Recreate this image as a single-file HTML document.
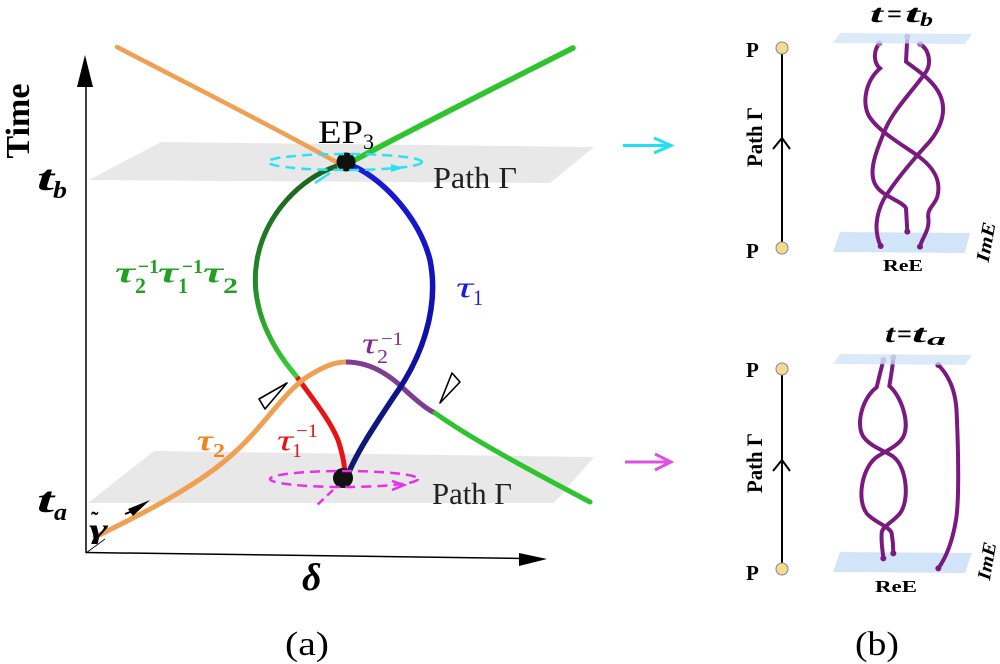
<!DOCTYPE html>
<html><head><meta charset="utf-8"><style>
html,body{margin:0;padding:0;background:#fff;}
svg{display:block;}
text{font-family:"Liberation Serif","DejaVu Serif",serif;}
</style></head><body>
<svg width="1000" height="664" viewBox="0 0 1000 664" xmlns="http://www.w3.org/2000/svg">
<defs>
<linearGradient id="gl" gradientUnits="userSpaceOnUse" x1="0" y1="166" x2="0" y2="377">
<stop offset="0" stop-color="#1d621d"/><stop offset="0.55" stop-color="#24862a"/><stop offset="1" stop-color="#36d236"/>
</linearGradient>
<linearGradient id="bl" gradientUnits="userSpaceOnUse" x1="0" y1="166" x2="0" y2="477">
<stop offset="0" stop-color="#1a1ad8"/><stop offset="0.5" stop-color="#1010b0"/><stop offset="1" stop-color="#0e1a66"/>
</linearGradient>
</defs>

<!-- planes (a) -->
<polygon points="161,142 594,147 550,183 89,180" fill="#e8e8e8"/>
<polygon points="154,451 594,457 554,503 88,503" fill="#e8e8e8"/>

<!-- axes -->
<line x1="86" y1="553" x2="86" y2="80" stroke="#000" stroke-width="1.5"/>
<polygon points="85,55 77,87 93,87" fill="#000"/>
<line x1="86" y1="552.5" x2="525" y2="558.5" stroke="#000" stroke-width="1.5"/>
<polygon points="547,559 519,553 519,566" fill="#000"/>
<line x1="86" y1="553" x2="105" y2="539" stroke="#000" stroke-width="0.8"/>

<!-- axis labels -->
<text transform="translate(29,121) rotate(-90)" text-anchor="middle" font-size="34" font-weight="bold">Time</text>
<text x="37" y="190" font-size="36" font-weight="bold" font-style="italic" textLength="17" lengthAdjust="spacingAndGlyphs">t</text>
<text x="53" y="198" font-size="24" font-weight="bold" font-style="italic" textLength="14" lengthAdjust="spacingAndGlyphs">b</text>
<text x="37" y="512" font-size="36" font-weight="bold" font-style="italic" textLength="17" lengthAdjust="spacingAndGlyphs">t</text>
<text x="54" y="520" font-size="24" font-weight="bold" font-style="italic" textLength="13" lengthAdjust="spacingAndGlyphs">a</text>
<text x="302" y="590" font-size="38" font-weight="bold" font-style="italic">δ</text>

<!-- curves -->
<path d="M117,47 C190,85 270,125 338,163" fill="none" stroke="#f0a052" stroke-width="4.5" stroke-linecap="round"/>
<path d="M353,161 C420,125 500,85 573,48" fill="none" stroke="#2ec42e" stroke-width="5.5" stroke-linecap="round"/>
<path d="M337,166 C300,178 265,215 257,260 C250,300 265,340 297,377" fill="none" stroke="url(#gl)" stroke-width="5"/>
<path d="M297,377 C312,398 330,420 338,440 C343,455 345,468 345,477" fill="none" stroke="#e81414" stroke-width="5"/>
<path d="M95,537 C140,515 200,485 235,452 C265,425 285,390 310,375 C325,366 335,362 346,362" fill="none" stroke="#f0a052" stroke-width="5" stroke-linecap="round"/>
<path d="M346,362 C370,362 390,375 405,390 C418,402 428,410 435,413" fill="none" stroke="#7e3d93" stroke-width="5"/>
<path d="M435,413 C470,438 520,465 590,502" fill="none" stroke="#2ec42e" stroke-width="5" stroke-linecap="round"/>
<path d="M353,166 C385,180 420,220 430,260 C440,310 420,360 395,395 C375,425 355,455 347,477" fill="none" stroke="url(#bl)" stroke-width="5.5"/>

<!-- dots -->
<circle cx="346" cy="162" r="9.5" fill="#111"/>
<circle cx="343" cy="478" r="10" fill="#111"/>

<!-- dashed loops -->
<ellipse cx="345" cy="162" rx="77" ry="8" fill="none" stroke="#2ee0f0" stroke-width="2.5" stroke-dasharray="10 6"/>
<polygon points="391,164 404,168 391,172" fill="#2ee0f0"/>
<line x1="330" y1="173" x2="315" y2="183" stroke="#2ee0f0" stroke-width="2.5"/>
<ellipse cx="344" cy="479" rx="74" ry="8" fill="none" stroke="#e830e8" stroke-width="2.5" stroke-dasharray="10 6"/>
<polyline points="392,481 404,485 392,490" fill="none" stroke="#e830e8" stroke-width="2.5"/>
<line x1="333" y1="490" x2="315" y2="507" stroke="#e830e8" stroke-width="2.5" stroke-dasharray="8 5"/>

<!-- open triangles -->
<polygon points="259,399 287,383 265,409" fill="#fff" stroke="#000" stroke-width="1.6" stroke-linejoin="round"/>
<polygon points="440,403 452,373 460,382" fill="#fff" stroke="#000" stroke-width="1.6" stroke-linejoin="round"/>

<!-- small arrow near gamma -->
<polygon points="150,500 128,509 133,516" fill="#000"/>
<line x1="125" y1="514" x2="138" y2="509" stroke="#000" stroke-width="2"/>

<!-- labels (a) -->
<text x="318" y="143" font-size="33" textLength="45" lengthAdjust="spacingAndGlyphs">EP</text>
<text x="363" y="149" font-size="22">3</text>
<text x="433" y="188" font-size="31" fill="#222" textLength="84" lengthAdjust="spacingAndGlyphs">Path Γ</text>
<text x="432" y="504" font-size="31" fill="#222" textLength="80" lengthAdjust="spacingAndGlyphs">Path Γ</text>

<g fill="#22a022" font-weight="bold">
<text x="115" y="282" font-size="30" font-style="italic" textLength="20" lengthAdjust="spacingAndGlyphs">τ</text>
<text x="135" y="293" font-size="22" textLength="11" lengthAdjust="spacingAndGlyphs">2</text>
<text x="138" y="273" font-size="20" textLength="21" lengthAdjust="spacingAndGlyphs">−1</text>
<text x="158" y="282" font-size="30" font-style="italic" textLength="20" lengthAdjust="spacingAndGlyphs">τ</text>
<text x="178" y="293" font-size="22" textLength="10" lengthAdjust="spacingAndGlyphs">1</text>
<text x="182" y="273" font-size="20" textLength="21" lengthAdjust="spacingAndGlyphs">−1</text>
<text x="203" y="282" font-size="30" font-style="italic" textLength="20" lengthAdjust="spacingAndGlyphs">τ</text>
<text x="223" y="293" font-size="22" textLength="15" lengthAdjust="spacingAndGlyphs">2</text>
</g>
<g fill="#1b1be0">
<text x="456" y="297" font-size="30" font-style="italic" textLength="17" lengthAdjust="spacingAndGlyphs">τ</text>
<text x="473" y="305" font-size="22" textLength="10" lengthAdjust="spacingAndGlyphs">1</text>
</g>
<g fill="#e51515">
<text x="277" y="450" font-size="30" font-style="italic" textLength="16" lengthAdjust="spacingAndGlyphs">τ</text>
<text x="292" y="457" font-size="20" textLength="10" lengthAdjust="spacingAndGlyphs">1</text>
<text x="296" y="437" font-size="19" textLength="22" lengthAdjust="spacingAndGlyphs">−1</text>
</g>
<g fill="#7e2d8e">
<text x="362" y="353" font-size="30" font-style="italic" textLength="15" lengthAdjust="spacingAndGlyphs">τ</text>
<text x="377" y="363" font-size="20" textLength="11" lengthAdjust="spacingAndGlyphs">2</text>
<text x="381" y="345" font-size="19" textLength="22" lengthAdjust="spacingAndGlyphs">−1</text>
</g>
<g fill="#f0851e" font-weight="bold">
<text x="197" y="450" font-size="30" font-style="italic" textLength="16" lengthAdjust="spacingAndGlyphs">τ</text>
<text x="213" y="457" font-size="20" textLength="12" lengthAdjust="spacingAndGlyphs">2</text>
</g>
<text x="89" y="538" font-size="27" font-weight="bold" font-style="italic" textLength="19" lengthAdjust="spacingAndGlyphs">γ</text>
<text x="91" y="527" font-size="22" font-weight="bold">˜</text>

<text x="285" y="655" font-size="34" textLength="44" lengthAdjust="spacingAndGlyphs">(a)</text>

<!-- ===== panel (b) ===== -->
<!-- arrows -->
<line x1="623" y1="145.5" x2="670" y2="145.5" stroke="#22e0f0" stroke-width="3"/>
<polyline points="654,138 671,145.5 654,153" fill="none" stroke="#22e0f0" stroke-width="3"/>
<line x1="625" y1="462" x2="670" y2="462" stroke="#e050e0" stroke-width="3"/>
<polyline points="655,454 671,462 655,470" fill="none" stroke="#e050e0" stroke-width="3"/>

<!-- titles -->
<text x="870" y="22" font-size="25" font-weight="bold" font-style="italic" textLength="13" lengthAdjust="spacingAndGlyphs">t</text>
<text x="887" y="22" font-size="25" font-weight="bold" textLength="15" lengthAdjust="spacingAndGlyphs">=</text>
<text x="905" y="22" font-size="25" font-weight="bold" font-style="italic" textLength="15" lengthAdjust="spacingAndGlyphs">t</text>
<text x="920" y="26" font-size="19" font-weight="bold" font-style="italic" textLength="13" lengthAdjust="spacingAndGlyphs">b</text>
<text x="885" y="342" font-size="25" font-weight="bold" font-style="italic" textLength="10" lengthAdjust="spacingAndGlyphs">t</text>
<text x="897" y="342" font-size="25" font-weight="bold" textLength="15" lengthAdjust="spacingAndGlyphs">=</text>
<text x="912" y="342" font-size="25" font-weight="bold" font-style="italic" textLength="14" lengthAdjust="spacingAndGlyphs">t</text>
<text x="927" y="345" font-size="17" font-weight="bold" font-style="italic" textLength="19" lengthAdjust="spacingAndGlyphs">a</text>

<!-- path lines -->
<g stroke="#000" stroke-width="2" fill="none">
<line x1="782" y1="48" x2="782" y2="248"/>
<polyline points="773,149 782,138 790,149"/>
<line x1="782" y1="369" x2="782" y2="569"/>
<polyline points="773,471 782,460 790,471"/>
</g>
<g fill="#f6da8e" stroke="#7a8aa0" stroke-width="1">
<circle cx="782" cy="48" r="6"/><circle cx="782" cy="248" r="6"/>
<circle cx="782" cy="369" r="6"/><circle cx="782" cy="569" r="6"/>
</g>
<g font-size="21" font-weight="bold">
<text x="746" y="57">P</text><text x="746" y="258">P</text>
<text x="746" y="377">P</text><text x="746" y="580">P</text>
</g>
<text transform="translate(762,137) rotate(-90)" text-anchor="middle" font-size="22" font-weight="bold" textLength="60" lengthAdjust="spacingAndGlyphs">Path Γ</text>
<text transform="translate(762,463) rotate(-90)" text-anchor="middle" font-size="22" font-weight="bold" textLength="60" lengthAdjust="spacingAndGlyphs">Path Γ</text>

<!-- bottom planes -->
<polygon points="840,232 970,233 965,253 833,252" fill="#d2e5f8"/>
<polygon points="840,552 972,553 965,573 833,572" fill="#d2e5f8"/>

<!-- upper braid -->
<g transform="translate(850,30) scale(0.33333)" fill="none" stroke="#7a1a80" stroke-width="12" stroke-linecap="round">
<path d="M88,40 C68,65 72,100 90,115 C50,150 35,210 55,255 C80,300 150,340 200,375 C250,410 275,450 262,500 C255,525 230,535 235,565 C240,600 215,625 210,650"/>
<path d="M210,42 C240,60 245,105 225,130 C190,180 130,240 105,300 C80,360 50,430 80,470 C100,500 160,515 168,535 L172,605"/>
<path d="M172,20 L168,95 C200,120 250,150 270,195 C295,250 265,310 225,350 C180,400 130,460 100,510 C80,550 70,600 92,648"/>
<g fill="#7a1a80" stroke="none">
<circle cx="92" cy="648" r="9"/><circle cx="172" cy="605" r="9"/><circle cx="210" cy="650" r="9"/>
</g>
<g fill="#a070c0" stroke="none">
<circle cx="88" cy="40" r="9"/><circle cx="172" cy="20" r="9"/><circle cx="210" cy="42" r="9"/>
</g>
</g>

<!-- lower braid -->
<g transform="translate(600,300) scale(0.33333)" fill="none" stroke="#7a1a80" stroke-width="12" stroke-linecap="round">
<path d="M850,180 C843,210 835,240 830,262 C790,290 765,370 790,410 C810,440 860,455 880,470 C920,500 930,600 900,640 C880,665 845,680 845,700 C843,730 848,750 850,775"/>
<path d="M880,172 C878,200 872,235 868,258 C905,290 930,370 910,410 C895,440 850,455 825,475 C785,510 770,600 800,640 C820,665 870,680 875,700 C880,730 880,745 880,760"/>
<path d="M1015,195 C1050,230 1068,280 1070,340 C1075,450 1078,600 1068,660 C1058,720 1040,770 1015,805"/>
<g fill="#7a1a80" stroke="none">
<circle cx="850" cy="775" r="9"/><circle cx="880" cy="760" r="9"/><circle cx="1015" cy="805" r="9"/><circle cx="1015" cy="195" r="9"/>
</g>
<g fill="#a070c0" stroke="none">
<circle cx="850" cy="180" r="9"/><circle cx="880" cy="172" r="9"/>
</g>
</g>

<!-- top planes (over strand ends) -->
<polygon points="840,33 972,34 965,44 833,43" fill="#cfe3f7" opacity="0.75"/>
<polygon points="840,354 972,355 965,365 833,364" fill="#cfe3f7" opacity="0.75"/>

<!-- ReE / ImE -->
<text x="883" y="271" font-size="17" font-weight="bold" textLength="40" lengthAdjust="spacingAndGlyphs">ReE</text>
<text x="875" y="592" font-size="17" font-weight="bold" textLength="42" lengthAdjust="spacingAndGlyphs">ReE</text>
<text transform="translate(992,243) rotate(-80)" text-anchor="middle" font-size="19" font-weight="bold" font-style="italic" textLength="40" lengthAdjust="spacingAndGlyphs">ImE</text>
<text transform="translate(993,562) rotate(-80)" text-anchor="middle" font-size="19" font-weight="bold" font-style="italic" textLength="38" lengthAdjust="spacingAndGlyphs">ImE</text>

<text x="855" y="655" font-size="34" textLength="44" lengthAdjust="spacingAndGlyphs">(b)</text>
</svg>
</body></html>
